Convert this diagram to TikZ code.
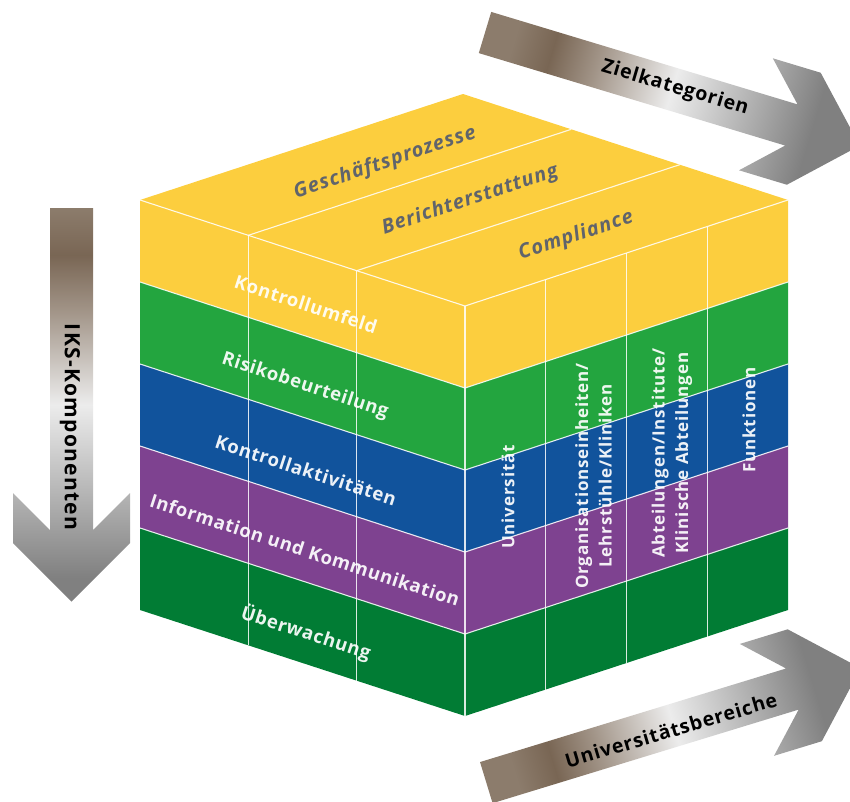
\documentclass[tikz,border=0pt]{standalone}
\usepackage{fontspec}
\setmainfont{Open Sans}
\usetikzlibrary{calc}
\definecolor{cyel}{RGB}{252,206,62}
\definecolor{cgrn}{RGB}{35,165,63}
\definecolor{cblu}{RGB}{17,83,156}
\definecolor{cpur}{RGB}{126,66,144}
\definecolor{cdgr}{RGB}{1,124,52}
\definecolor{topgray}{RGB}{96,100,108}
\definecolor{abrownl}{RGB}{140,124,108}
\definecolor{abrown}{RGB}{121,102,84}
\definecolor{alight}{RGB}{236,236,236}
\definecolor{agray}{RGB}{182,182,182}
\definecolor{agrayd}{RGB}{128,128,128}
\pgfdeclarehorizontalshading{arrowshadeH}{100bp}{color(0bp)=(abrownl); color(25bp)=(abrownl); color(31bp)=(abrown); color(38bp)=(abrown!70!white); color(50bp)=(alight); color(61bp)=(agray); color(72bp)=(agrayd); color(100bp)=(agrayd)}
\newcommand{\chevarrow}[4]{%
  \begin{scope}[shift={#2}, rotate=#3]
    \coordinate (#1a) at (0,21.5);
    \coordinate (#1b) at (#4,21.5);
    \coordinate (#1c) at (#4-37,58.5);
    \coordinate (#1d) at (#4+13,58.5);
    \coordinate (#1t) at (#4+71.5,0);
    \coordinate (#1e) at (#4+13,-58.5);
    \coordinate (#1f) at (#4-37,-58.5);
    \coordinate (#1g) at (#4,-21.5);
    \coordinate (#1h) at (0,-21.5);
  \end{scope}
  \shade[shading=arrowshadeH, shading angle=#3] (#1a) -- (#1b) -- (#1c) -- (#1d) -- (#1t) -- (#1e) -- (#1f) -- (#1g) -- (#1h) -- cycle;
}
\newfontfamily\lblL[LetterSpace=3.5]{Open Sans}
\newfontfamily\lblT[LetterSpace=5]{Open Sans}
\newfontfamily\lblR[LetterSpace=5]{Open Sans}
\newfontfamily\lblA[LetterSpace=4.5]{Open Sans}
\newfontfamily\lblV[LetterSpace=6]{Open Sans}
\begin{document}
\begin{tikzpicture}[x=1pt,y=-1pt,
  wline/.style={white, opacity=0.85, line width=1.1pt},
  toplbl/.style={text=topgray, font=\lblT\fontsize{20}{20}\selectfont\bfseries\itshape, rotate=18.5, inner sep=0},
  leftlbl/.style={text=white, text opacity=0.92, font=\lblL\fontsize{18.5}{18.5}\selectfont\bfseries, rotate=-18, inner sep=0},
  rightlbl/.style={text=white, text opacity=0.92, font=\lblR\fontsize{17}{23.5}\selectfont\bfseries, rotate=90, align=center, inner sep=0},
  arrlbl/.style={text=black, font=\lblA\fontsize{19.5}{19.5}\selectfont\bfseries, inner sep=0},
  vlbl/.style={text=black, font=\lblV\fontsize{21}{21}\selectfont\bfseries, inner sep=0}]
\useasboundingbox (0,0) rectangle (850,801);
\clip (0,0) rectangle (850,801);
% arrows
\chevarrow{za}{(485,32.5)}{-16.8}{320}
\chevarrow{ka}{(71.5,208)}{-90}{322}
\chevarrow{ua}{(486.3,782.6)}{17}{320}
% cube
\fill[cyel] (140,200) -- (463,94) -- (788,200) -- (465,306) -- cycle;
\foreach \c [count=\i from 0] in {cyel,cgrn,cblu,cpur,cdgr}{
  \fill[\c] (140,200+82*\i) -- (465,306+82*\i) -- (465,388+82*\i) -- (140,282+82*\i) -- cycle;
  \fill[\c] (465,306+82*\i) -- (788,200+82*\i) -- (788,282+82*\i) -- (465,388+82*\i) -- cycle;
}
\foreach \i in {1,...,4}{
  \draw[wline] (140,200+82*\i) -- (465,306+82*\i) -- (788,200+82*\i);
}
\draw[wline] (140,200) -- (465,306) -- (788,200);
\draw[wline] (465,306) -- (465,716);
\draw[wline] (248.3,235.3) -- (248.3,645.3);
\draw[wline] (356.7,270.7) -- (356.7,680.7);
\draw[wline] (545.75,279.5) -- (545.75,689.5);
\draw[wline] (626.5,253) -- (626.5,663);
\draw[wline] (707.25,226.5) -- (707.25,636.5);
\draw[wline] (248.3,235.3) -- (571.3,129.3);
\draw[wline] (356.7,270.7) -- (679.7,164.7);
% top labels
\node[toplbl] (gp) at (385,163) {Geschäftsprozesse};
\node[toplbl] (be) at (470,200) {Berichterstattung};
\node[toplbl] (co) at (576,236) {Compliance};
% left labels
\node[leftlbl] (ku) at (306,304) {Kontrollumfeld};
\node[leftlbl] (rb) at (305,386) {Risikobeurteilung};
\node[leftlbl] (ka) at (306,470) {Kontrollaktivitäten};
\node[leftlbl] (ik) at (305,550) {Information und Kommunikation};
\node[leftlbl] (ue) at (306,633) {Überwachung};
% right labels
\node[rightlbl] (un) at (508,497) {Universität};
\node[rightlbl] (oe) at (593.5,476) {Organisationseinheiten/\\Lehrstühle/Kliniken};
\node[rightlbl] (ab) at (672,453) {Abteilungen/Institute/\\Klinische Abteilungen};
\node[rightlbl] (fu) at (749,420) {Funktionen};
% arrow labels
\node[arrlbl, rotate=-16.5] (zk) at (675,88) {Zielkategorien};
\node[arrlbl, rotate=16.5] (ub) at (671,730) {Universitätsbereiche};
\node[vlbl, rotate=-90] (ik2) at (70,427) {IKS-Komponenten};
\end{tikzpicture}
\end{document}
